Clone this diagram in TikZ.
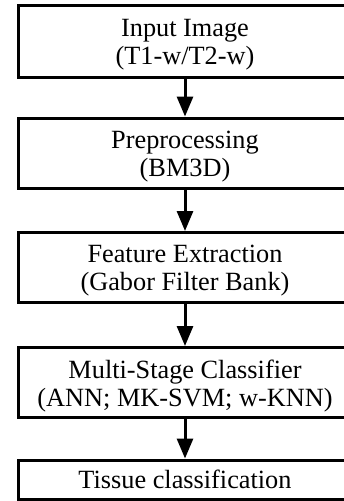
\documentclass[tikz,border=0pt]{standalone}
\usepackage{fontspec}
\setmainfont{Liberation Serif}
\usetikzlibrary{arrows.meta}
\begin{document}
\begin{tikzpicture}[x=1pt,y=-1pt,
  stepbox/.style={draw=black,line width=3pt,minimum width=333pt,inner sep=0pt},
  txt/.style={inner sep=0pt,align=center,font=\fontsize{26.3}{28}\selectfont},
  flow/.style={line width=3pt,-{Triangle[length=20pt,width=16pt]}}]
\useasboundingbox (0,0) rectangle (344,501);
\node[stepbox,minimum height=72pt] (b1) at (185,41.5) {};
\node[stepbox,minimum height=70.5pt] (b2) at (185,153.25) {};
\node[stepbox,minimum height=69.5pt] (b3) at (185,267.25) {};
\node[stepbox,minimum height=70pt] (b4) at (185,382.5) {};
\node[stepbox,minimum height=39.5pt] (b5) at (185,479.75) {};
\node[txt] (t1) at ([yshift=-3.5pt]b1.center) {Input Image\\(T1-w/T2-w)};
\node[txt] (t2) at ([yshift=-3.5pt]b2.center) {Preprocessing\\(BM3D)};
\node[txt] (t3) at ([yshift=-3.5pt]b3.center) {Feature Extraction\\(Gabor Filter Bank)};
\node[txt] (t4) at ([yshift=-3.5pt]b4.center) {Multi-Stage Classifier\\(ANN; MK-SVM; w-KNN)};
\node[txt] (t5) at (b5.center) {Tissue classification};
\draw[flow] (b1.south) -- (b2.north);
\draw[flow] (b2.south) -- (b3.north);
\draw[flow] (b3.south) -- (b4.north);
\draw[flow] (b4.south) -- (b5.north);
\end{tikzpicture}
\end{document}
